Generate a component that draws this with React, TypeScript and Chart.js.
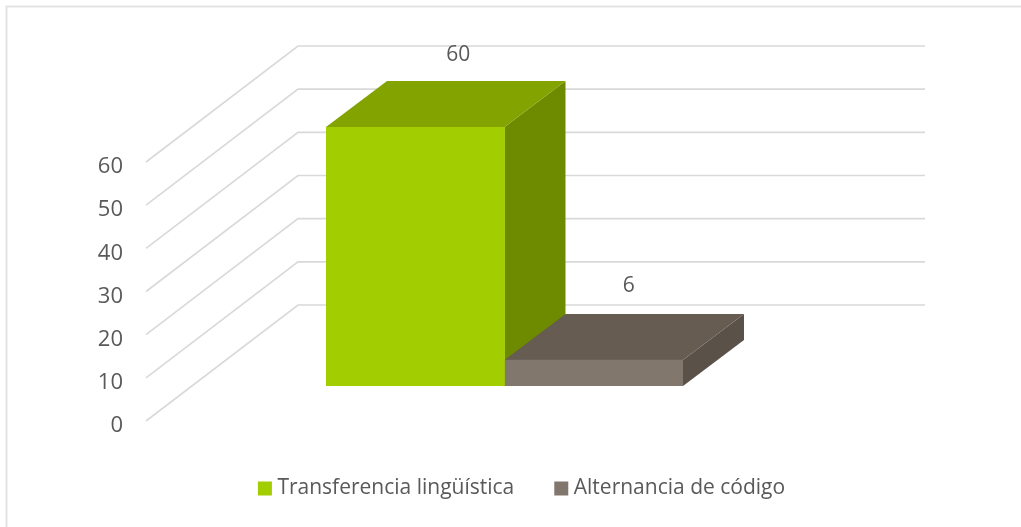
import React, { useEffect, useRef } from "react";
import { Chart, registerables } from "chart.js";

Chart.register(...registerables);

const categories = [""];
const seriesNames = ["Transferencia lingüística", "Alternancia de código"];
const transferencia = [60];
const alternancia = [6];
const frontColors = ["#A2CD00", "#81776D"];
const topColors = ["#83A400", "#665C52"];
const sideColors = ["#6E8B00", "#5A5248"];
const TEXT = "#595959";
const GRID = "#D9D9D9";
const FONT = "'Open Sans', sans-serif";

const barDepth = { dx: 61, dy: 46 };
const wall = { frontDrop: 35, dx: 152, dy: 116, frontLeft: 146, backRight: 925 };
const labelLift = [72, 74];
const labelShift = [43, 35];

const depthPlugin = {
  id: "depth3d",
  beforeDraw(chart: any) {
    const { ctx, width, height } = chart;
    ctx.save();
    ctx.fillStyle = "#FFFFFF";
    ctx.fillRect(0, 0, width, height);
    ctx.strokeStyle = "#E3E3E3";
    ctx.lineWidth = 2;
    ctx.beginPath();
    ctx.moveTo(width, 6.5);
    ctx.lineTo(6.5, 6.5);
    ctx.lineTo(6.5, height);
    ctx.stroke();
    ctx.restore();
  },
  beforeDatasetsDraw(chart: any) {
    const { ctx } = chart;
    const y = chart.scales.y;
    ctx.save();
    ctx.strokeStyle = GRID;
    ctx.lineWidth = 1.6;
    y.ticks.forEach((t: any) => {
      const fy = y.getPixelForValue(t.value) + wall.frontDrop;
      ctx.beginPath();
      ctx.moveTo(wall.frontLeft, fy);
      ctx.lineTo(wall.frontLeft + wall.dx, fy - wall.dy);
      ctx.lineTo(wall.backRight, fy - wall.dy);
      ctx.stroke();
    });
    chart.data.datasets.forEach((_: any, i: number) => {
      const el = chart.getDatasetMeta(i).data[0];
      const l = el.x - el.width / 2;
      const r = el.x + el.width / 2;
      const t = el.y;
      const b = el.base;
      const { dx, dy } = barDepth;
      ctx.fillStyle = sideColors[i];
      ctx.beginPath();
      ctx.moveTo(r, t);
      ctx.lineTo(r + dx, t - dy);
      ctx.lineTo(r + dx, b - dy);
      ctx.lineTo(r, b);
      ctx.closePath();
      ctx.fill();
      ctx.fillStyle = topColors[i];
      ctx.beginPath();
      ctx.moveTo(l, t);
      ctx.lineTo(r, t);
      ctx.lineTo(r + dx, t - dy);
      ctx.lineTo(l + dx, t - dy);
      ctx.closePath();
      ctx.fill();
    });
    ctx.restore();
  },
  afterDatasetsDraw(chart: any) {
    const { ctx } = chart;
    ctx.save();
    ctx.fillStyle = TEXT;
    ctx.font = `21px ${FONT}`;
    ctx.textAlign = "center";
    ctx.textBaseline = "middle";
    chart.data.datasets.forEach((ds: any, i: number) => {
      const el = chart.getDatasetMeta(i).data[0];
      ctx.fillText(String(ds.data[0]), el.x + labelShift[i], el.y - labelLift[i]);
    });
    ctx.restore();
  },
};

export default function App() {
  const ref = useRef<HTMLCanvasElement>(null);
  useEffect(() => {
    const chart = new Chart(ref.current!, {
      type: "bar",
      data: {
        labels: categories,
        datasets: [
          { label: seriesNames[0], data: transferencia, backgroundColor: frontColors[0], yAxisID: "y" },
          { label: seriesNames[1], data: alternancia, backgroundColor: frontColors[1], yAxisID: "y" },
        ],
      },
      options: {
        responsive: false,
        animation: false,
        layout: { padding: { top: 127, left: 27, right: 0, bottom: 18 } },
        datasets: { bar: { barPercentage: 1, categoryPercentage: 1 } },
        scales: {
          x: {
            grid: { display: false },
            border: { display: false },
            ticks: { display: false },
            afterFit(s: any) { s.height = 47; },
          },
          y: {
            min: 0,
            max: 60,
            grid: { display: false, drawTicks: false },
            border: { display: false },
            ticks: {
              stepSize: 10,
              autoSkip: false,
              padding: 203,
              labelOffset: 40,
              color: TEXT,
              font: { family: FONT, size: 22 },
            },
            afterFit(s: any) {
              s.width = 299;
              s.paddingTop = 0;
              s.paddingBottom = 0;
            },
          },
          yRight: {
            position: "right",
            grid: { display: false },
            border: { display: false },
            ticks: { display: false },
            afterFit(s: any) { s.width = 338; },
          },
        },
        plugins: {
          tooltip: { enabled: false },
          legend: {
            position: "bottom",
            maxHeight: 112,
            labels: {
              usePointStyle: true,
              pointStyle: "rect",
              boxWidth: 4,
              boxHeight: 14,
              padding: 45,
              color: TEXT,
              font: { family: FONT, size: 21 },
            },
          },
        },
      } as any,
      plugins: [depthPlugin],
    });
    return () => chart.destroy();
  }, []);
  return (
    <div style={{ position: "fixed", left: 0, top: 0 }}>
      <canvas ref={ref} width={1021} height={527} style={{ display: "block" }} />
    </div>
  );
}
